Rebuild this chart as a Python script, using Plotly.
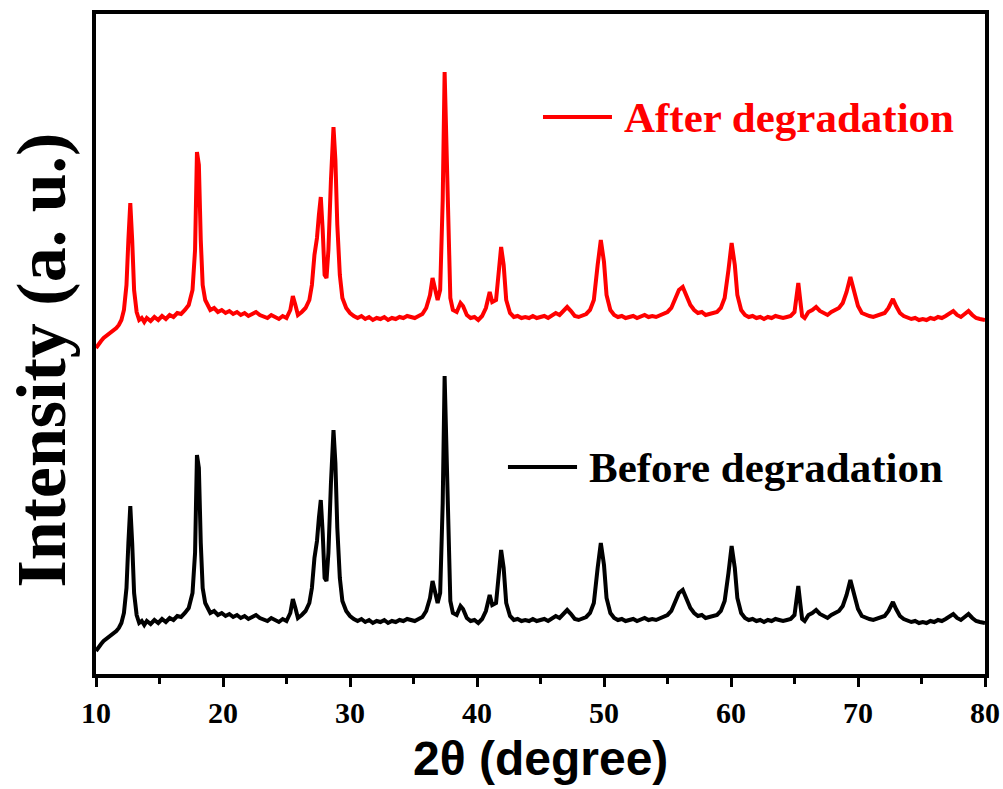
import plotly.graph_objects as go

two_theta = [10.0, 10.2, 10.4, 10.6, 10.8, 11.0, 11.2, 11.4, 11.6, 11.8, 12.0, 12.2, 12.4, 12.55, 12.7, 12.85, 13.0, 13.2, 13.4, 13.6,
             13.8, 14.0, 14.3, 14.6, 14.9, 15.2, 15.5, 15.8, 16.1, 16.4, 16.7, 17.0, 17.3, 17.6, 17.8, 17.95, 18.1, 18.25, 18.4, 18.6,
             18.8, 19.0, 19.3, 19.6, 19.9, 20.2, 20.5, 20.8, 21.1, 21.4, 21.7, 22.0, 22.3, 22.6, 22.9, 23.2, 23.5, 23.8, 24.1, 24.4,
             24.7, 25.0, 25.3, 25.5, 25.7, 25.9, 26.2, 26.5, 26.8, 27.0, 27.2, 27.4, 27.55, 27.7, 27.85, 28.0, 28.15, 28.3, 28.5, 28.7,
             28.85, 29.0, 29.2, 29.4, 29.7, 30.0, 30.3, 30.6, 30.9, 31.2, 31.5, 31.8, 32.1, 32.4, 32.7, 33.0, 33.3, 33.6, 33.9, 34.2,
             34.5, 34.8, 35.1, 35.4, 35.7, 36.0, 36.3, 36.5, 36.7, 36.9, 37.1, 37.3, 37.45, 37.6, 37.75, 37.9, 38.1, 38.4, 38.7, 38.9,
             39.2, 39.5, 39.8, 40.1, 40.4, 40.7, 41.0, 41.2, 41.5, 41.7, 41.9, 42.1, 42.3, 42.6, 42.9, 43.2, 43.5, 43.8, 44.1, 44.4,
             44.7, 45.0, 45.3, 45.6, 45.9, 46.2, 46.5, 46.8, 47.1, 47.4, 47.7, 48.0, 48.3, 48.6, 48.9, 49.2, 49.5, 49.75, 50.0, 50.2,
             50.5, 50.8, 51.1, 51.4, 51.7, 52.0, 52.3, 52.6, 52.9, 53.2, 53.5, 53.8, 54.1, 54.4, 54.7, 55.0, 55.3, 55.6, 55.9, 56.2,
             56.5, 56.8, 57.1, 57.4, 57.7, 58.0, 58.3, 58.6, 58.9, 59.2, 59.5, 59.8, 60.05, 60.3, 60.5, 60.8, 61.1, 61.4, 61.7, 62.0,
             62.3, 62.6, 62.9, 63.2, 63.5, 63.8, 64.1, 64.4, 64.7, 65.0, 65.15, 65.3, 65.45, 65.6, 65.8, 66.1, 66.4, 66.7, 67.0, 67.3,
             67.6, 67.9, 68.2, 68.5, 68.8, 69.1, 69.4, 69.7, 70.0, 70.3, 70.6, 70.9, 71.2, 71.5, 71.8, 72.1, 72.4, 72.75, 73.0, 73.3,
             73.6, 73.9, 74.2, 74.5, 74.8, 75.1, 75.4, 75.7, 76.0, 76.3, 76.6, 76.9, 77.2, 77.5, 77.8, 78.1, 78.4, 78.7, 79.0, 79.3,
             79.6, 80.0]

after_intensity = [326, 330, 333, 336, 338, 340, 341, 344, 346, 349, 354, 364, 389, 434, 471, 434, 384, 362, 354, 356,
                   352, 356, 353, 357, 354, 358, 355, 359, 357, 361, 360, 364, 369, 384, 424, 522, 509, 434, 389, 374,
                   369, 364, 366, 362, 364, 361, 363, 360, 362, 359, 361, 358, 360, 362, 359, 358, 356, 359, 357, 355,
                   358, 356, 364, 378, 369, 359, 362, 366, 374, 389, 419, 436, 459, 477, 444, 399, 396, 424, 494, 547,
                   514, 449, 399, 376, 366, 361, 358, 356, 358, 355, 357, 354, 356, 355, 357, 354, 356, 355, 357, 356,
                   358, 357, 356, 358, 360, 366, 379, 396, 386, 374, 384, 474, 602, 524, 414, 376, 364, 362, 371, 368,
                   359, 356, 357, 354, 358, 366, 382, 372, 374, 404, 427, 409, 374, 361, 357, 358, 356, 357, 356, 358,
                   356, 357, 358, 356, 358, 361, 359, 363, 367, 363, 358, 357, 359, 360, 364, 374, 409, 434, 412, 379,
                   364, 359, 357, 358, 356, 357, 358, 356, 357, 359, 357, 358, 357, 359, 360, 362, 366, 374, 384, 387,
                   379, 369, 364, 361, 362, 359, 360, 361, 362, 366, 376, 404, 431, 409, 379, 364, 359, 357, 358, 356,
                   357, 355, 357, 356, 358, 357, 356, 357, 358, 362, 379, 391, 374, 358, 356, 362, 364, 367, 363, 361,
                   359, 362, 364, 366, 371, 382, 397, 384, 368, 361, 359, 358, 357, 358, 359, 361, 366, 375, 368, 361,
                   358, 356, 355, 356, 354, 355, 354, 356, 355, 357, 356, 358, 360, 363, 359, 357, 360, 363, 359, 356,
                   355, 354]

before_intensity = [23, 27, 30, 33, 35, 37, 38, 41, 43, 46, 51, 61, 86, 131, 168, 131, 81, 59, 51, 53,
                    49, 53, 50, 54, 51, 55, 52, 56, 54, 58, 57, 61, 66, 81, 121, 219, 206, 131, 86, 71,
                    66, 61, 63, 59, 61, 58, 60, 57, 59, 56, 58, 55, 57, 59, 56, 55, 53, 56, 54, 52,
                    55, 53, 61, 75, 66, 56, 59, 63, 71, 86, 116, 133, 156, 174, 141, 96, 93, 121, 191, 244,
                    211, 146, 96, 73, 63, 58, 55, 53, 55, 52, 54, 51, 53, 52, 54, 51, 53, 52, 54, 53,
                    55, 54, 53, 55, 57, 63, 76, 93, 83, 71, 81, 171, 298, 221, 111, 73, 61, 59, 68, 65,
                    56, 53, 54, 51, 55, 63, 79, 69, 71, 101, 124, 106, 71, 58, 54, 55, 53, 54, 53, 55,
                    53, 54, 55, 53, 55, 58, 56, 60, 64, 60, 55, 54, 56, 57, 61, 71, 106, 131, 109, 76,
                    61, 56, 54, 55, 53, 54, 55, 53, 54, 56, 54, 55, 54, 56, 57, 59, 63, 71, 81, 84,
                    76, 66, 61, 58, 59, 56, 57, 58, 59, 63, 73, 101, 128, 106, 76, 61, 56, 54, 55, 53,
                    54, 52, 54, 53, 55, 54, 53, 54, 55, 59, 76, 88, 71, 55, 53, 59, 61, 64, 60, 58,
                    56, 59, 61, 63, 68, 79, 94, 81, 65, 58, 56, 55, 54, 55, 56, 58, 63, 72, 65, 58,
                    55, 53, 52, 53, 51, 52, 51, 53, 52, 54, 53, 55, 57, 60, 56, 54, 57, 60, 56, 53,
                    52, 51]

x_tick_values = [10, 20, 30, 40, 50, 60, 70, 80]
x_tick_labels = ["10", "20", "30", "40", "50", "60", "70", "80"]

serif = "Liberation Serif, Times New Roman, serif"
sans = "Liberation Sans, Arial, sans-serif"

fig = go.Figure()
fig.add_trace(go.Scatter(x=two_theta, y=before_intensity, mode="lines",
                         line=dict(color="#000000", width=4), name="Before degradation",
                         showlegend=False))
fig.add_trace(go.Scatter(x=two_theta, y=after_intensity, mode="lines",
                         line=dict(color="#ff0000", width=4), name="After degradation",
                         showlegend=False))

# legend-like keys
fig.add_shape(type="line", xref="paper", yref="paper", x0=0.5028, x1=0.5804, y0=0.8439, y1=0.8439,
              line=dict(color="#ff0000", width=4))
fig.add_annotation(xref="paper", yref="paper", x=0.5917, y=0.8439, xanchor="left", yanchor="middle",
                   text="After degradation", showarrow=False,
                   font=dict(family=serif, size=43, color="#ff0000", weight="bold"))
fig.add_shape(type="line", xref="paper", yref="paper", x0=0.4634, x1=0.5411, y0=0.3136, y1=0.3136,
              line=dict(color="#000000", width=4))
fig.add_annotation(xref="paper", yref="paper", x=0.5523, y=0.3136, xanchor="left", yanchor="middle",
                   text="Before degradation", showarrow=False,
                   font=dict(family=serif, size=43, color="#000000", weight="bold"))

# axis titles
fig.add_annotation(xref="paper", yref="paper", x=0.5, y=-0.1273, xanchor="center", yanchor="middle",
                   text="2θ (degree)", showarrow=False,
                   font=dict(family=sans, size=48, color="#000000", weight="bold"))
fig.add_annotation(xref="paper", yref="paper", x=-0.061, y=0.476, xanchor="center", yanchor="middle",
                   text="Intensity (a. u.)", textangle=-90, showarrow=False,
                   font=dict(family=serif, size=70, color="#000000", weight="bold"))

fig.update_xaxes(range=[10, 80], showline=True, linecolor="#000000", linewidth=4, mirror=True,
                 ticks="outside", ticklen=9, tickwidth=3, tickcolor="#000000",
                 tickvals=x_tick_values, ticktext=x_tick_labels, automargin=False,
                 tickfont=dict(family=serif, size=30, color="#000000", weight="bold"),
                 minor=dict(ticks="outside", ticklen=6, tickwidth=3, tickcolor="#000000", dtick=5, tick0=5),
                 showgrid=False, zeroline=False)
fig.update_yaxes(range=[0, 660], showline=True, linecolor="#000000", linewidth=4, mirror=True,
                 ticks="", showticklabels=False, showgrid=False, zeroline=False, automargin=False)

fig.update_layout(width=1003, height=789, margin=dict(l=96, r=18, t=14, b=115, autoexpand=False),
                  plot_bgcolor="#ffffff", paper_bgcolor="#ffffff", showlegend=False)

fig.write_html("out.html")
